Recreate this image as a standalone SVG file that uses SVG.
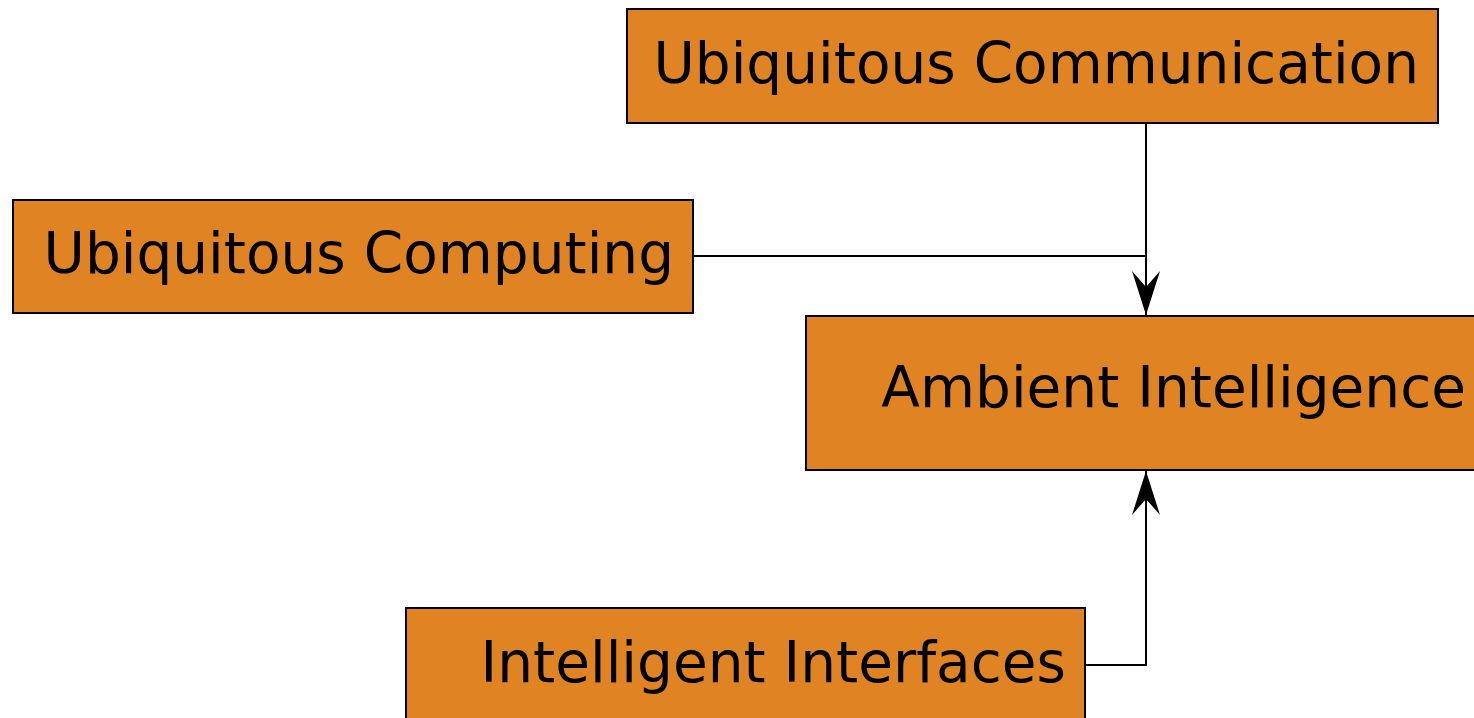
<svg xmlns="http://www.w3.org/2000/svg" width="1474" height="718" viewBox="0 0 1474 718">
<style>
.box{fill:#e08423;stroke:#000;stroke-width:2}
.lbl{font-family:"DejaVu Sans",sans-serif;font-size:56.5px;fill:#000;text-anchor:end}
.con{fill:none;stroke:#000;stroke-width:2}
</style>
<defs>
<marker id="ah" markerUnits="userSpaceOnUse" viewBox="-46 -15 48 30" refX="0" refY="0" markerWidth="48" markerHeight="30" orient="auto">
<path d="M0,0 L-44,-14 L-28,0 L-44,14 Z" fill="#000"/>
</marker>
</defs>
<rect width="1474" height="718" fill="#fff"/>
<g id="connectors">
<path class="con" d="M1146,123 V315" marker-end="url(#ah)"/>
<path class="con" d="M693,256 H1146"/>
<path class="con" d="M1085,665 H1146 V471" marker-end="url(#ah)"/>
</g>
<g id="ubiquitous-communication">
<rect class="box" x="627" y="9" width="811" height="114"/>
<text class="lbl" x="1419" y="83">Ubiquitous Communication</text>
</g>
<g id="ubiquitous-computing">
<rect class="box" x="13" y="200" width="680" height="113"/>
<text class="lbl" x="674" y="273">Ubiquitous Computing</text>
</g>
<g id="ambient-intelligence">
<rect class="box" x="806" y="316" width="700" height="154"/>
<text class="lbl" x="1466" y="407">Ambient Intelligence</text>
</g>
<g id="intelligent-interfaces">
<rect class="box" x="406" y="608" width="679" height="130"/>
<text class="lbl" x="1066" y="682">Intelligent Interfaces</text>
</g>
</svg>
